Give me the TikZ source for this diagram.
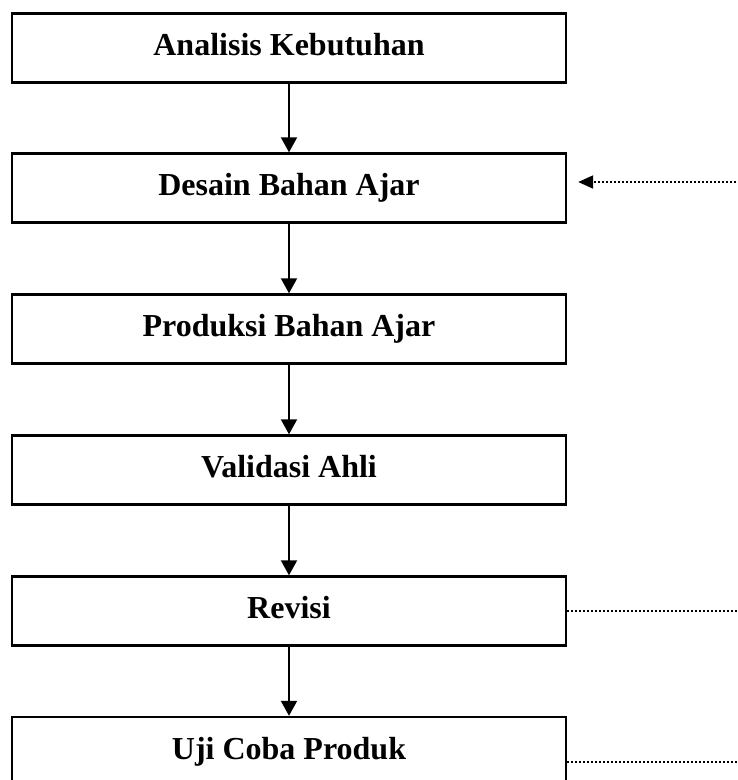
\documentclass[tikz,border=0pt]{standalone}
\usepackage{fontspec}
\setmainfont{Liberation Serif}
\usetikzlibrary{arrows.meta}
\begin{document}
\begin{tikzpicture}[x=1pt,y=-1pt,
  stepbox/.style={draw, line width=2.4pt, minimum width=554pt, minimum height=69pt,
    inner sep=0pt, text height=22pt, text depth=7pt,
    font=\fontsize{32}{36}\selectfont\bfseries},
  flow/.style={line width=2pt, -{Triangle[length=15pt,width=16pt]}},
  dots/.style={line width=2pt, dash pattern=on 2pt off 2pt}]
\useasboundingbox (0,0) rectangle (738,780);
\node[stepbox] (a) at (289,48) {Analisis Kebutuhan};
\node[stepbox] (d) at (289,188) {Desain Bahan Ajar};
\node[stepbox] (p) at (289,329) {Produksi Bahan Ajar};
\node[stepbox] (v) at (289,470) {Validasi Ahli};
\node[stepbox] (r) at (289,611) {Revisi};
\node[stepbox] (u) at (289,751.5) {Uji Coba Produk};
\draw[flow] (a) -- (d);
\draw[flow] (d) -- (p);
\draw[flow] (p) -- (v);
\draw[flow] (v) -- (r);
\draw[flow] (r) -- (u);
\coordinate (din) at (740,182);
\coordinate (rout) at (740,611);
\coordinate (uout) at (740,762);
\draw[dots, -{Triangle[length=15pt,width=13pt]}] (din) -- ([xshift=11pt,yshift=6pt]d.east);
\draw[dots] (r.east) -- (rout);
\draw[dots] ([yshift=-10.5pt]u.east) -- (uout);
\end{tikzpicture}
\end{document}
